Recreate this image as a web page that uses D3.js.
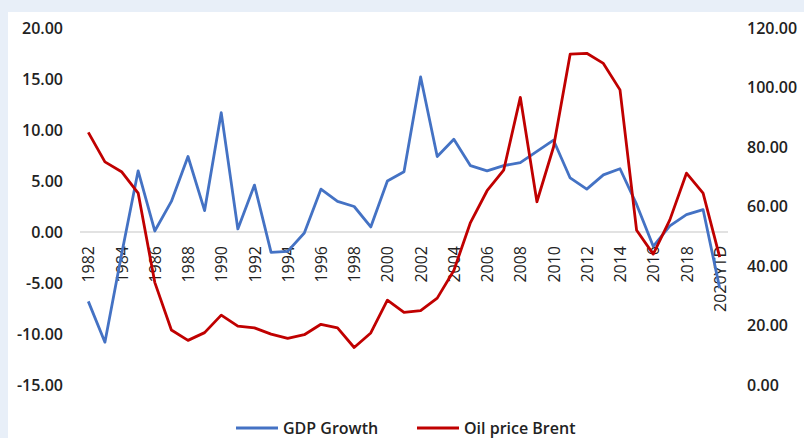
<!DOCTYPE html>
<html>
<head>
<meta charset="utf-8">
<script src="https://cdn.jsdelivr.net/npm/d3@7"></script>
<style>
  body { margin: 0; background: #fff; }
  svg { display: block; font-family: "Open Sans", sans-serif; }
</style>
</head>
<body>
<svg id="chart"></svg>
<script>
// Data
var years = ["1982","1983","1984","1985","1986","1987","1988","1989","1990","1991",
             "1992","1993","1994","1995","1996","1997","1998","1999","2000","2001",
             "2002","2003","2004","2005","2006","2007","2008","2009","2010","2011",
             "2012","2013","2014","2015","2016","2017","2018","2019","2020YTD"];

var gdpGrowth = [-6.8, -10.8, -2.2, 6.0, 0.1, 3.0, 7.4, 2.1, 11.7, 0.3,
                 4.6, -2.0, -1.9, -0.1, 4.2, 3.0, 2.5, 0.5, 5.0, 5.9,
                 15.2, 7.4, 9.1, 6.5, 6.0, 6.5, 6.8, 7.9, 9.0, 5.3,
                 4.2, 5.6, 6.2, 2.7, -1.4, 0.6, 1.7, 2.2, -5.5];

var oilBrent = [84.9, 75.0, 71.7, 64.5, 34.5, 18.5, 15.0, 17.6, 23.5, 19.8,
                19.2, 17.1, 15.7, 16.9, 20.4, 19.2, 12.6, 17.5, 28.5, 24.4,
                25.0, 29.2, 38.5, 54.6, 65.3, 72.2, 96.7, 61.6, 80.0, 111.2,
                111.5, 108.1, 99.2, 52.0, 44.0, 55.5, 71.2, 64.5, 43.0];

var leftTicks = [-15, -10, -5, 0, 5, 10, 15, 20];
var rightTicks = [0, 20, 40, 60, 80, 100, 120];

var seriesNames = ["GDP Growth", "Oil price Brent"];
var seriesColors = ["#4472C4", "#C00000"];

var dimensions = {
    width: 804,
    height: 438,
    margin: { top: 28, bottom: 53, left: 80, right: 76 }
};

var svg = d3.select("#chart")
    .attr("width", dimensions.width)
    .attr("height", dimensions.height);

// light blue frame at top and left
svg.append("rect")
    .attr("width", dimensions.width).attr("height", dimensions.height)
    .attr("fill", "#e8eff8");
svg.append("rect")
    .attr("x", 8).attr("y", 12)
    .attr("width", dimensions.width - 8).attr("height", dimensions.height - 12)
    .attr("fill", "#fff");

var xScale = d3.scalePoint()
    .domain(years)
    .range([dimensions.margin.left, dimensions.width - dimensions.margin.right])
    .padding(0.5);

var yLeft = d3.scaleLinear()
    .domain([-15, 20])
    .range([dimensions.height - dimensions.margin.bottom, dimensions.margin.top]);

var yRight = d3.scaleLinear()
    .domain([0, 120])
    .range([dimensions.height - dimensions.margin.bottom, dimensions.margin.top]);

// zero gridline
svg.append("line")
    .attr("x1", dimensions.margin.left)
    .attr("x2", dimensions.width - dimensions.margin.right)
    .attr("y1", yLeft(0)).attr("y2", yLeft(0))
    .attr("stroke", "#d9d9d9")
    .attr("stroke-width", 1.5);

// left axis
var leftAxis = svg.append("g")
    .attr("transform", `translate(${dimensions.margin.left},0)`)
    .call(d3.axisLeft(yLeft).tickValues(leftTicks).tickSize(0).tickPadding(17)
        .tickFormat(d3.format(".2f")));
leftAxis.select(".domain").remove();
leftAxis.selectAll("text")
    .attr("font-family", "'Open Sans', sans-serif")
    .attr("font-size", "16px")
    .attr("font-weight", 600)
    .attr("fill", "#222")
    .text(d => d3.format(".2f")(d).replace("−", "-"));

// right axis
var rightAxis = svg.append("g")
    .attr("transform", `translate(${dimensions.width - dimensions.margin.right},0)`)
    .call(d3.axisRight(yRight).tickValues(rightTicks).tickSize(0).tickPadding(19)
        .tickFormat(d3.format(".2f")));
rightAxis.select(".domain").remove();
rightAxis.selectAll("text")
    .attr("font-family", "'Open Sans', sans-serif")
    .attr("font-size", "16px")
    .attr("font-weight", 600)
    .attr("fill", "#222");

// x axis with rotated year labels, every second year
var xAxis = svg.append("g")
    .attr("transform", `translate(0,${yLeft(0)})`)
    .call(d3.axisBottom(xScale).tickValues(years.filter((d, i) => i % 2 === 0)).tickSize(0));
xAxis.select(".domain").remove();
xAxis.selectAll("text")
    .attr("font-family", "'Open Sans', sans-serif")
    .attr("font-size", "16px")
    .attr("fill", "#222")
    .attr("text-anchor", "end")
    .attr("transform", "rotate(-90)")
    .attr("x", -14)
    .attr("y", 0)
    .attr("dy", "0.35em");

// lines
var gdpLine = d3.line()
    .x((d, i) => xScale(years[i]))
    .y(d => yLeft(d));

var oilLine = d3.line()
    .x((d, i) => xScale(years[i]))
    .y(d => yRight(d));

svg.append("path")
    .datum(gdpGrowth)
    .attr("fill", "none")
    .attr("stroke", seriesColors[0])
    .attr("stroke-width", 2.8)
    .attr("stroke-linejoin", "round")
    .attr("d", gdpLine);

svg.append("path")
    .datum(oilBrent)
    .attr("fill", "none")
    .attr("stroke", seriesColors[1])
    .attr("stroke-width", 2.8)
    .attr("stroke-linejoin", "round")
    .attr("d", oilLine);

// legend
var legendX = [236, 417];
var legend = svg.selectAll(".legend")
    .data(seriesNames)
    .enter()
    .append("g")
    .attr("class", "legend")
    .attr("transform", (d, i) => `translate(${legendX[i]}, 428)`);

legend.append("line")
    .attr("x1", 0).attr("x2", 42)
    .attr("y1", 0).attr("y2", 0)
    .attr("stroke", (d, i) => seriesColors[i])
    .attr("stroke-width", 2.8);

legend.append("text")
    .attr("x", 47)
    .attr("y", 0)
    .attr("dy", "0.35em")
    .attr("font-size", "16px")
    .attr("font-weight", 600)
    .attr("fill", "#222")
    .text(d => d);
</script>
</body>
</html>
